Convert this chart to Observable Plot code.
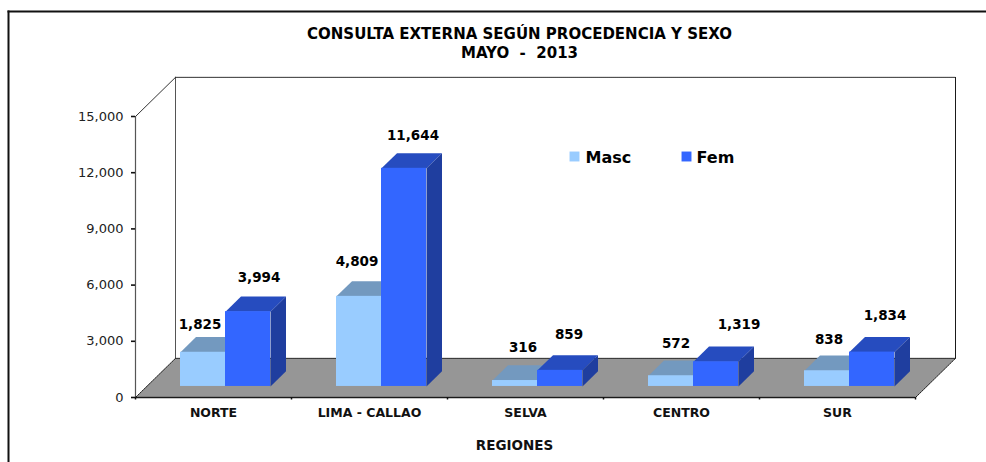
<!DOCTYPE html>
<html>
<head>
<meta charset="utf-8">
<script src="https://cdn.jsdelivr.net/npm/d3@7"></script>
<script src="https://cdn.jsdelivr.net/npm/@observablehq/plot@0.6"></script>
<style>
html,body{margin:0;padding:0;background:#fff}
svg{display:block}
</style>
</head>
<body>
<div id="chart"></div>
<script>
// ---- data ----
const regions = ["NORTE", "LIMA - CALLAO", "SELVA", "CENTRO", "SUR"];
const masc = [1825, 4809, 316, 572, 838];
const fem = [3994, 11644, 859, 1319, 1834];
const yTicks = [0, 3000, 6000, 9000, 12000, 15000];
const titleLines = ["CONSULTA EXTERNA SEGÚN PROCEDENCIA Y SEXO", "MAYO  -  2013"];
const xTitle = "REGIONES";
const seriesNames = ["Masc", "Fem"];

// ---- pseudo-3D projection, in scale units ----
const FONT = "DejaVu Sans";
const yMax = 15000;
const wallDX = 40 / 156, wallDY = 2090;   // floor depth
const barW = 45 / 156, barDX = 15.5 / 156, barDY = 810; // bar width and depth
const liftX = 45 / 156, liftY = 590;      // where bars sit on the floor

const colors = {
  masc: {front: "#99CCFF", top: "#7399BF"},
  fem: {front: "#3366FF", top: "#264CBF", side: "#1F3E9F"},
  floor: "#969696"
};

const faces = [];
function face(id, fill, pts) {
  pts.forEach(([x, y]) => faces.push({id, fill, x, y}));
}
const fronts = [];
const labels = [];
regions.forEach((r, i) => {
  [["masc", masc[i], 0], ["fem", fem[i], 1]].forEach(([k, v, s]) => {
    const x1 = i + liftX + s * barW, x2 = x1 + barW;
    const y1 = liftY, y2 = liftY + v;
    const c = colors[k];
    face(`${k}-top-${i}`, c.top, [[x1, y2], [x2, y2], [x2 + barDX, y2 + barDY], [x1 + barDX, y2 + barDY]]);
    if (k === "fem") face(`${k}-side-${i}`, c.side, [[x2, y1], [x2 + barDX, y1 + barDY], [x2 + barDX, y2 + barDY], [x2, y2]]);
    fronts.push({x1, x2, y1, y2, fill: c.front});
    labels.push({x: (x1 + x2) / 2, y: y2, v});
  });
});

// hand-placed data label nudges from the original (pixels)
const nudgeX = [-3, 11, -2, 9, 8, 9, 5, 23, 2, 13];
const nudgeY = [-28, -34, -35, -33, -33, -36, -32, -37, -31, -36];

const n = regions.length;
const floorPts = [[0, 0], [wallDX, wallDY], [n + wallDX, wallDY], [n, 0]];
const wallFrame = [[0, yMax], [wallDX, yMax + wallDY], [wallDX, wallDY]];
const rightWall = [[wallDX, yMax + wallDY], [n + wallDX, yMax + wallDY]];
const rightEdge = [[n + wallDX, yMax + wallDY], [n + wallDX, wallDY]];
const toXY = pts => pts.map(([x, y]) => ({x, y}));

const edge = (pts, opts = {}) => Plot.line(toXY(pts), {x: "x", y: "y", stroke: "#1a1a1a", strokeWidth: 1, ...opts});

const chart = Plot.plot({
  width: 986,
  height: 462,
  marginLeft: 135,
  marginRight: 71,
  marginTop: 116,
  marginBottom: 65,
  style: {fontFamily: FONT, background: "#fff", overflow: "visible"},
  x: {type: "linear", domain: [0, n]},
  y: {type: "linear", domain: [0, yMax]},
  marks: [
    Plot.frame({anchor: "top", insetTop: -105, insetLeft: -127, insetRight: -71, stroke: "#111", strokeWidth: 2}),
    Plot.frame({anchor: "left", insetTop: -105, insetBottom: -65, insetLeft: -127, stroke: "#111", strokeWidth: 2}),
    Plot.line(toXY(floorPts.concat([floorPts[0]])), {x: "x", y: "y", fill: colors.floor, stroke: "none"}),
    edge(floorPts.slice(1, 3), {strokeDasharray: "1,1"}),
    edge(wallFrame.slice(1), {stroke: "#555"}),
    edge(rightWall, {strokeDasharray: "1,1"}),
    edge(rightEdge),
    edge([[0, 0], [0, yMax]], {stroke: "#555", strokeWidth: 1.2}),
    edge(wallFrame.slice(0, 2), {stroke: "#333"}),
    edge(floorPts.slice(0, 2), {strokeDasharray: "2,1"}),
    edge([floorPts[3], floorPts[2]], {strokeDasharray: "2,1"}),
    edge([[0, 0], [n, 0]], {strokeDasharray: "1,1", strokeWidth: 1.4}),

    // axes
    Plot.axisY({ticks: yTicks, tickFormat: d3.format(","), tickSize: 4, tickPadding: 8, label: null,
      fontSize: 13, stroke: "#111", strokeWidth: 1.6, fontFamily: FONT, fill: "#222"}),
    Plot.axisX({ticks: d3.range(0, n + 1), tickFormat: () => "", tickSize: 2.5, label: null, stroke: "#111", strokeWidth: 1.5}),
    Plot.axisX({ticks: regions.map((_, i) => i + 0.5), tickFormat: t => regions[t - 0.5], tickSize: 0, tickPadding: 11,
      label: null, fontWeight: "bold", fontSize: 12.5, fill: "#111", fontFamily: FONT}),

    // bars
    Plot.line(faces, {x: "x", y: "y", z: "id", fill: "fill", stroke: "none"}),
    Plot.rect(fronts.filter((_, i) => i % 2 === 0), {x1: "x1", x2: "x2", y1: "y1", y2: "y2", fill: "fill"}),
    Plot.rect(fronts.filter((_, i) => i % 2 === 1), {x1: "x1", x2: "x2", y1: "y1", y2: "y2", fill: "fill"}),

    // value labels
    ...labels.map((d, i) => Plot.text([d], {
      x: "x", y: "y", text: e => d3.format(",")(e.v), dx: nudgeX[i], dy: nudgeY[i],
      fontSize: 13.5, fontWeight: "bold", fill: "#000", fontFamily: FONT
    })),

    // titles
    ...titleLines.map((t, i) => Plot.text([t], {
      frameAnchor: "top", lineAnchor: "middle", dx: -6, dy: -82 + i * 19, fontSize: 15, fontWeight: "bold", fill: "#000", fontFamily: FONT
    })),
    Plot.text([xTitle], {frameAnchor: "bottom", lineAnchor: "middle", dx: -11, dy: 48, fontSize: 13.5, fontWeight: "bold", fill: "#111", fontFamily: FONT}),

    // legend
    Plot.dot([0], {frameAnchor: "top-left", dx: 439, dy: 40, symbol: "square", r: 5.6, fill: colors.masc.front}),
    Plot.dot([1], {frameAnchor: "top-left", dx: 551, dy: 40, symbol: "square", r: 5.6, fill: colors.fem.front}),
    Plot.text([seriesNames[0]], {frameAnchor: "top-left", lineAnchor: "middle", dx: 450, dy: 41, textAnchor: "start", fontSize: 16, fontWeight: "bold", fill: "#000", fontFamily: FONT}),
    Plot.text([seriesNames[1]], {frameAnchor: "top-left", lineAnchor: "middle", dx: 561, dy: 41, textAnchor: "start", fontSize: 16, fontWeight: "bold", fill: "#000", fontFamily: FONT})
  ]
});
document.getElementById("chart").append(chart);
</script>
</body>
</html>
